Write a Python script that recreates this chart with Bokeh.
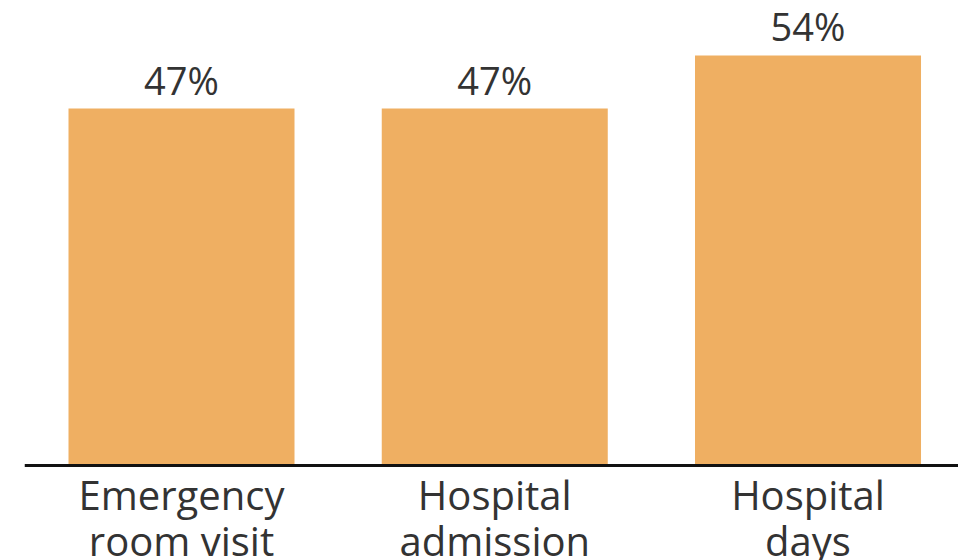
from bokeh.plotting import figure
from bokeh.models import Range1d, ColumnDataSource, Span
from bokeh.core.properties import value
from bokeh.embed import file_html
from bokeh.resources import INLINE

categories = ["Emergency\nroom visit", "Hospital\nadmission", "Hospital\ndays"]
values = [47, 47, 54]
labels = ["47%", "47%", "54%"]

xs = list(range(len(categories)))
src = ColumnDataSource(dict(x=xs, top=values, label=labels, cat=categories,
                            zero=[0] * len(xs)))

p = figure(width=958, height=560, output_backend="svg", toolbar_location=None,
           x_range=Range1d(-0.5012, 2.4804), y_range=Range1d(-12.51, 61.23),
           min_border_left=24, min_border_right=0, min_border_top=0, min_border_bottom=0)
p.outline_line_color = None
p.background_fill_color = "white"
p.border_fill_color = "white"
p.grid.visible = False
p.axis.visible = False

p.vbar(x="x", top="top", width=0.7215, bottom=0, source=src,
       fill_color="#EFAF62", line_color=None)
p.add_layout(Span(location=0, dimension="width", line_color="#111111", line_width=3))

p.text(x="x", y="top", text="label", source=src, y_offset=-29,
       text_align="center", text_baseline="alphabetic",
       text_font=value("Open Sans"), text_font_size="38px", text_color="#333333")

p.text(x="x", y="zero", text="cat", source=src, y_offset=2,
       text_align="center", text_baseline="top", text_line_height=0.83,
       text_font=value("Open Sans"), text_font_size="40px", text_color="#333333")

open("out.html", "w").write(file_html(p, INLINE))
